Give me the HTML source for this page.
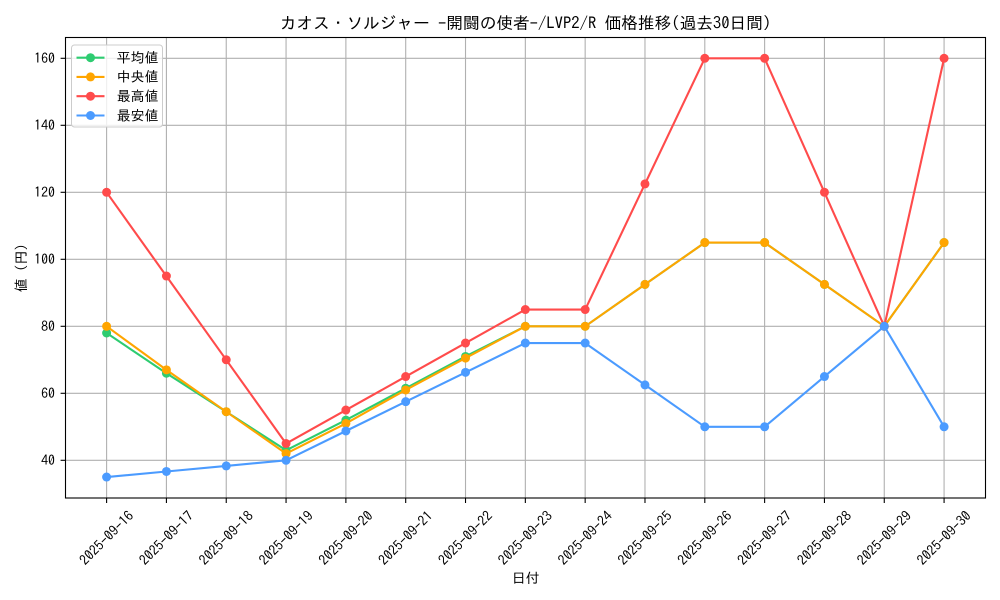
<!DOCTYPE html>
<html><head><meta charset="utf-8"><style>
html,body{margin:0;padding:0;background:#fff;}
svg{display:block;}
text{font-family:"IPAGothic","Liberation Sans","Noto Sans CJK JP",sans-serif;fill:#000;}
</style></head><body>
<svg id="c" width="1000" height="600" viewBox="0 0 1000 600" xmlns="http://www.w3.org/2000/svg">
<rect x="0" y="0" width="1000" height="600" fill="#fff"/>
<g id="grid"></g>
<g id="series"></g>
<rect x="65.5" y="37.5" width="920" height="460.5" fill="none" stroke="#000" stroke-width="1.1"/>
<g id="ticks"></g>
<text x="525.5" y="29" font-size="16.67" text-anchor="middle">カオス・ソルジャー -開闘の使者-/LVP2/R 価格推移(過去30日間)</text>
<g font-size="13.9" text-anchor="end">
<text x="55" y="464.8">40</text>
<text x="55" y="397.8">60</text>
<text x="55" y="330.8">80</text>
<text x="55" y="263.8">100</text>
<text x="55" y="196.8">120</text>
<text x="55" y="129.8">140</text>
<text x="55" y="62.8">160</text>
</g>
<g font-size="13.9" text-anchor="middle">
<text transform="translate(106.6,538) rotate(-45)" dy="4.8">2025-09-16</text>
<text transform="translate(166.4,538) rotate(-45)" dy="4.8">2025-09-17</text>
<text transform="translate(226.2,538) rotate(-45)" dy="4.8">2025-09-18</text>
<text transform="translate(286.1,538) rotate(-45)" dy="4.8">2025-09-19</text>
<text transform="translate(345.9,538) rotate(-45)" dy="4.8">2025-09-20</text>
<text transform="translate(405.7,538) rotate(-45)" dy="4.8">2025-09-21</text>
<text transform="translate(465.5,538) rotate(-45)" dy="4.8">2025-09-22</text>
<text transform="translate(525.3,538) rotate(-45)" dy="4.8">2025-09-23</text>
<text transform="translate(585.2,538) rotate(-45)" dy="4.8">2025-09-24</text>
<text transform="translate(645.0,538) rotate(-45)" dy="4.8">2025-09-25</text>
<text transform="translate(704.8,538) rotate(-45)" dy="4.8">2025-09-26</text>
<text transform="translate(764.6,538) rotate(-45)" dy="4.8">2025-09-27</text>
<text transform="translate(824.4,538) rotate(-45)" dy="4.8">2025-09-28</text>
<text transform="translate(884.3,538) rotate(-45)" dy="4.8">2025-09-29</text>
<text transform="translate(944.1,538) rotate(-45)" dy="4.8">2025-09-30</text>
</g>
<text x="525.7" y="583" font-size="13.9" text-anchor="middle">日付</text>
<text transform="translate(21,268) rotate(-90)" dy="4.8" font-size="13.9" text-anchor="middle">値 (円)</text>
<g id="legend">
<rect x="71.5" y="45" width="91" height="82" rx="3" fill="#fff" fill-opacity="0.8" stroke="#cccccc" stroke-width="1"/>
<g font-size="13.9">
<text x="116.7" y="62.5">平均値</text>
<text x="116.7" y="81.7">中央値</text>
<text x="116.7" y="101">最高値</text>
<text x="116.7" y="120.3">最安値</text>
</g>
</g>
</svg>
<script>
(function(){
var NS="http://www.w3.org/2000/svg";
function el(p,t,a){var e=document.createElementNS(NS,t);for(var k in a)e.setAttribute(k,a[k]);p.appendChild(e);return e;}
function X(i){return 106.6+59.82*i;}
function Y(v){return 460.3-(v-40)*3.35;}
var grid=document.getElementById('grid'),ticks=document.getElementById('ticks'),ser=document.getElementById('series'),leg=document.getElementById('legend');
for(var i=0;i<15;i++){var x=X(i);
 el(grid,'line',{x1:x,y1:37.5,x2:x,y2:498,stroke:'#b0b0b0','stroke-width':1.1});
 el(ticks,'line',{x1:x,y1:498,x2:x,y2:503,stroke:'#000','stroke-width':1.1});}
for(var v=40;v<=160;v+=20){var y=Y(v);
 el(grid,'line',{x1:65.5,y1:y,x2:985.5,y2:y,stroke:'#b0b0b0','stroke-width':1.1});
 el(ticks,'line',{x1:60.6,y1:y,x2:65.5,y2:y,stroke:'#000','stroke-width':1.1});}
var S=[
 {c:'#2ecc71',d:[78,66,54.5,43,52,61.5,71,80,80,92.5,105,105,92.5,80,105]},
 {c:'#ffa500',d:[80,67,54.5,42,51,61,70.5,80,80,92.5,105,105,92.5,80,105]},
 {c:'#ff4b4b',d:[120,95,70,45,55,65,75,85,85,122.5,160,160,120,80,160]},
 {c:'#4b9bff',d:[35,36.67,38.33,40,48.75,57.5,66.25,75,75,62.5,50,50,65,80,50]}
];
var ly=[57.7,76.9,96.2,115.5];
S.forEach(function(s,k){
 var pts=s.d.map(function(v,i){return X(i).toFixed(1)+','+Y(v).toFixed(1);}).join(' ');
 el(ser,'polyline',{points:pts,fill:'none',stroke:s.c,'stroke-width':2.1,'stroke-linejoin':'round','stroke-linecap':'square'});
 s.d.forEach(function(v,i){el(ser,'circle',{cx:X(i),cy:Y(v),r:4.5,fill:s.c});});
 el(leg,'line',{x1:76.5,y1:ly[k],x2:104.5,y2:ly[k],stroke:s.c,'stroke-width':2.1});
 el(leg,'circle',{cx:90.5,cy:ly[k],r:4.5,fill:s.c});
});
})();
</script>
</body></html>
